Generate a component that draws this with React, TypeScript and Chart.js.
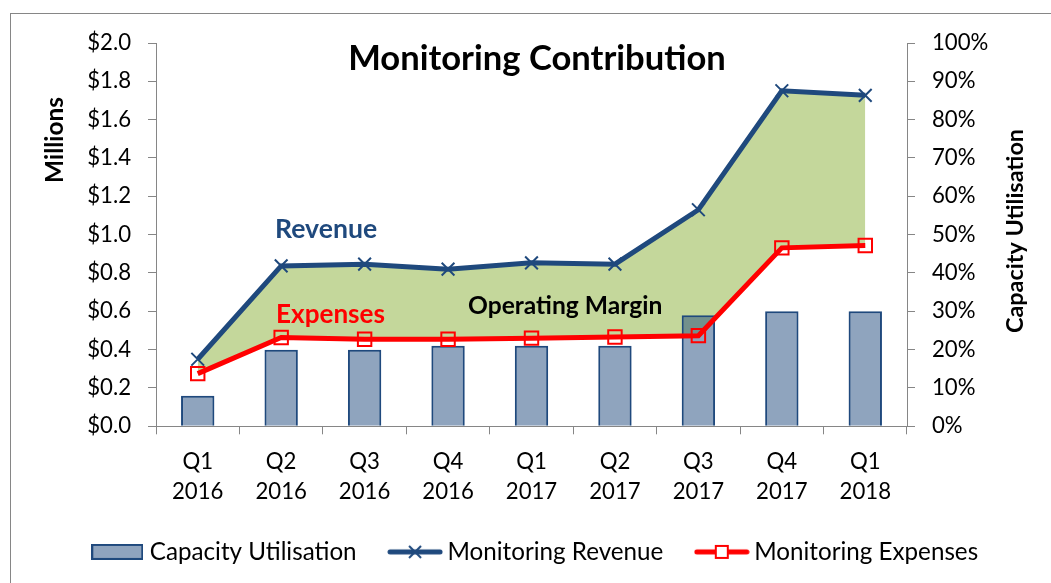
import React, { useEffect, useRef } from 'react';
import { Chart, registerables } from 'chart.js';

Chart.register(...registerables);

// ---------------- data ----------------
const categories: string[][] = [
  ['Q1', '2016'], ['Q2', '2016'], ['Q3', '2016'], ['Q4', '2016'],
  ['Q1', '2017'], ['Q2', '2017'], ['Q3', '2017'], ['Q4', '2017'], ['Q1', '2018'],
];
const capacityUtilisation = [8, 20, 20, 21, 21, 21, 29, 30, 30]; // percent
const monitoringRevenue = [0.35, 0.837, 0.846, 0.82, 0.853, 0.846, 1.13, 1.751, 1.727]; // $ millions
const monitoringExpenses = [0.275, 0.463, 0.454, 0.454, 0.46, 0.466, 0.473, 0.931, 0.943]; // $ millions
const leftAxisRange = [0, 2, 0.2]; // min, max, step ($ millions)
const rightAxisRange = [0, 100, 10]; // min, max, step (%)
const seriesLabels = ['Capacity Utilisation', 'Monitoring Revenue', 'Monitoring Expenses'];
const chartTitle = 'Monitoring Contribution';
const leftAxisTitle = 'Millions';
const rightAxisTitle = 'Capacity Utilisation';
const noteRevenue = 'Revenue';
const noteExpenses = 'Expenses';
const noteMargin = 'Operating Margin';

// ---------------- styles ----------------
const FAMILY = 'Lato, "Open Sans", sans-serif';
const AXIS = '#868686';
const NAVY = '#1F497D';
const RED = '#FF0000';
const GREEN = '#C4D79B';
const BAR_FILL = 'rgba(31,73,125,0.5)';
const BAR_FILL_SOLID = '#8FA4BE';

function fitSize(text: string, weight: number, target: number): number {
  const c = document.createElement('canvas').getContext('2d')!;
  c.font = `${weight} 100px ${FAMILY}`;
  const w = c.measureText(text).width;
  return Math.round((1000 * target) / w) / 10;
}

function makeIcon(w: number, h: number, draw: (ctx: CanvasRenderingContext2D) => void) {
  const c = document.createElement('canvas');
  c.width = w;
  c.height = h;
  draw(c.getContext('2d')!);
  return c;
}

export default function App() {
  const ref = useRef<HTMLCanvasElement | null>(null);

  useEffect(() => {
    document.body.style.margin = '0';
    const canvas = ref.current!;

    const tickSize = fitSize('2016', 400, 51.5);
    const legendSize = fitSize('Capacity Utilisation', 400, 207);
    const titleSize = fitSize(chartTitle, 700, 378);
    const revSize = fitSize(noteRevenue, 700, 102);
    const expSize = fitSize(noteExpenses, 700, 109);
    const marSize = fitSize(noteMargin, 700, 194);
    const millSize = fitSize(leftAxisTitle, 700, 86);
    const capSize = fitSize(rightAxisTitle, 700, 204);

    const barIcon = makeIcon(52, 16, (c) => {
      c.fillStyle = BAR_FILL_SOLID;
      c.fillRect(1, 1, 50, 14);
      c.strokeStyle = NAVY;
      c.lineWidth = 2;
      c.strokeRect(1, 1, 50, 14);
    });
    const revIcon = makeIcon(56, 18, (c) => {
      c.strokeStyle = NAVY;
      c.lineCap = 'round';
      c.lineWidth = 5;
      c.beginPath();
      c.moveTo(3, 9);
      c.lineTo(53, 9);
      c.stroke();
      c.lineWidth = 2;
      c.lineCap = 'butt';
      c.beginPath();
      c.moveTo(22, 3);
      c.lineTo(34, 15);
      c.moveTo(34, 3);
      c.lineTo(22, 15);
      c.stroke();
    });
    const expIcon = makeIcon(56, 18, (c) => {
      c.strokeStyle = RED;
      c.lineCap = 'round';
      c.lineWidth = 5;
      c.beginPath();
      c.moveTo(3, 9);
      c.lineTo(53, 9);
      c.stroke();
      c.fillStyle = '#FFFFFF';
      c.fillRect(22, 3, 12, 12);
      c.lineWidth = 2;
      c.strokeRect(22, 3, 12, 12);
    });
    const icons = [barIcon, revIcon, expIcon];

    const capText = (ctx: CanvasRenderingContext2D) => ctx.measureText('H').actualBoundingBoxAscent;

    const annotate = {
      id: 'annotate',
      beforeDraw(chart: any) {
        const ctx = chart.ctx as CanvasRenderingContext2D;
        ctx.save();
        ctx.strokeStyle = AXIS;
        ctx.lineWidth = 1;
        ctx.strokeRect(10.5, 13.5, 1100, 700);
        ctx.restore();
      },
      afterDraw(chart: any) {
        const ctx = chart.ctx as CanvasRenderingContext2D;
        const text = (t: string, size: number, color: string, x: number, capCenter: number, align: CanvasTextAlign) => {
          ctx.font = `700 ${size}px ${FAMILY}`;
          ctx.fillStyle = color;
          ctx.textAlign = align;
          ctx.textBaseline = 'alphabetic';
          ctx.fillText(t, x, capCenter + capText(ctx) / 2);
        };
        ctx.save();
        text(chartTitle, titleSize, '#000', 537, 57, 'center');
        text(noteRevenue, revSize, NAVY, 275, 228.5, 'left');
        text(noteExpenses, expSize, RED, 276, 313, 'left');
        text(noteMargin, marSize, '#000', 468, 305, 'left');

        ctx.font = `700 ${millSize}px ${FAMILY}`;
        ctx.fillStyle = '#000';
        ctx.textAlign = 'center';
        ctx.textBaseline = 'alphabetic';
        ctx.save();
        ctx.translate(63, 140);
        ctx.rotate(-Math.PI / 2);
        ctx.fillText(leftAxisTitle, 0, 0);
        ctx.restore();

        ctx.font = `700 ${capSize}px ${FAMILY}`;
        ctx.save();
        ctx.translate(1023, 231);
        ctx.rotate(-Math.PI / 2);
        ctx.fillText(rightAxisTitle, 0, 0);
        ctx.restore();
        ctx.restore();
      },
    };

    const tickFont = { family: FAMILY, size: tickSize };
    const legendPadding = 38;
    const xAxisHeight = 75.5;
    const padLeft = 24;

    const chart = new Chart(canvas, {
      type: 'bar',
      data: {
        labels: categories,
        datasets: [
          {
            type: 'bar',
            label: seriesLabels[0],
            data: capacityUtilisation,
            yAxisID: 'y2',
            backgroundColor: BAR_FILL,
            borderColor: NAVY,
            borderWidth: 2,
            barPercentage: 0.4,
            categoryPercentage: 1,
            order: 3,
          },
          {
            type: 'line',
            label: seriesLabels[1],
            data: monitoringRevenue,
            yAxisID: 'y',
            borderColor: NAVY,
            borderWidth: 5,
            backgroundColor: GREEN,
            fill: { target: 2 },
            tension: 0,
            pointStyle: 'crossRot',
            pointRadius: 9,
            pointBorderWidth: 2,
            pointBorderColor: NAVY,
            pointBackgroundColor: NAVY,
            order: 2,
          },
          {
            type: 'line',
            label: seriesLabels[2],
            data: monitoringExpenses,
            yAxisID: 'y',
            borderColor: RED,
            borderWidth: 5,
            fill: false,
            tension: 0,
            pointStyle: 'rect',
            pointRadius: 9.5,
            pointBorderWidth: 2,
            pointBorderColor: RED,
            pointBackgroundColor: 'rgba(0,0,0,0)',
            order: 1,
          },
        ],
      },
      options: {
        responsive: false,
        animation: false,
        events: [],
        layout: { padding: { top: 43, bottom: 9, left: padLeft, right: 0 } },
        plugins: {
          filler: { drawTime: 'beforeDatasetsDraw' },
          tooltip: { enabled: false },
          title: { display: false },
          legend: {
            position: 'bottom',
            labels: {
              usePointStyle: true,
              pointStyleWidth: 65 - legendSize,
              padding: legendPadding,
              color: '#000',
              font: { family: FAMILY, size: legendSize },
              generateLabels: () =>
                seriesLabels.map((t, i) => ({
                  text: t,
                  pointStyle: icons[i],
                  datasetIndex: i,
                  hidden: false,
                  lineWidth: 1,
                  fillStyle: 'rgba(0,0,0,0)',
                  strokeStyle: 'rgba(0,0,0,0)',
                  fontColor: '#000',
                })),
            },
          },
        },
        scales: {
          x: {
            type: 'category',
            offset: true,
            grid: {
              display: true,
              offset: true,
              drawOnChartArea: false,
              drawTicks: true,
              tickLength: 8,
              color: AXIS,
            },
            border: { color: AXIS, width: 1 },
            ticks: {
              color: '#000',
              font: { ...tickFont, lineHeight: 30 / tickSize },
              padding: 12.5,
              maxRotation: 0,
              autoSkip: false,
            },
            afterFit: (s: any) => {
              s.height = xAxisHeight;
            },
          },
          y: {
            position: 'left',
            min: leftAxisRange[0],
            max: leftAxisRange[1],
            grid: { drawOnChartArea: false, drawTicks: true, tickLength: 8, color: AXIS },
            border: { color: AXIS, width: 1 },
            ticks: {
              stepSize: leftAxisRange[2],
              color: '#000',
              font: tickFont,
              padding: 17,
              callback: (v: any) => '$' + Number(v).toFixed(1),
            },
            afterFit: (s: any) => {
              s.width = 156 - padLeft;
            },
          },
          y2: {
            position: 'right',
            min: rightAxisRange[0],
            max: rightAxisRange[1],
            grid: { drawOnChartArea: false, drawTicks: true, tickLength: 8, color: AXIS },
            border: { color: AXIS, width: 1 },
            ticks: {
              stepSize: rightAxisRange[2],
              color: '#000',
              font: tickFont,
              padding: 17,
              callback: (v: any) => Math.round(Number(v)) + '%',
            },
            afterFit: (s: any) => {
              s.width = 144;
            },
          },
        },
      } as any,
      plugins: [annotate],
    });

    return () => chart.destroy();
  }, []);

  return (
    <div style={{ width: 1051, height: 583 }}>
      <canvas ref={ref} width={1051} height={583} style={{ display: 'block' }} />
    </div>
  );
}
